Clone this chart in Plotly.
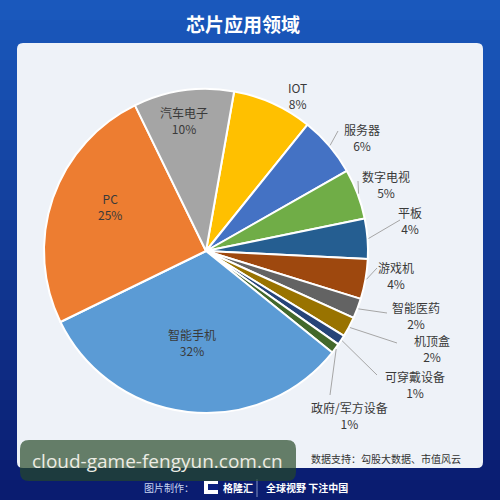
import math
import plotly.graph_objects as go

# ---- data ----
labels = ["IOT", "服务器", "数字电视", "平板", "游戏机", "智能医药", "机顶盒",
          "可穿戴设备", "政府/军方设备", "智能手机", "PC", "汽车电子"]
values = [8, 6, 5, 4, 4, 2, 2, 1, 1, 32, 25, 10]
colors = ["#FFC000", "#4472C4", "#70AD47", "#255E91", "#9E480E", "#636363",
          "#997300", "#264478", "#43682B", "#5B9BD5", "#ED7D31", "#A5A5A5"]
title_text = "芯片应用领域"
source_text = "数据支持：勾股大数据、市值风云"
watermark_text = "cloud-game-fengyun.com.cn"

# ---- layout helpers (pixel -> paper) ----
W = H = 500
def px(x):
    return x / W
def py(y):
    return 1 - y / H

CX, CY, R = 206, 251, 162
ROT = 10
FONT = "Noto Sans CJK SC"

fig = go.Figure()
fig.add_trace(go.Pie(
    labels=labels, values=values, sort=False, direction="clockwise",
    rotation=ROT, marker=dict(colors=colors, line=dict(color="white", width=2)),
    textinfo="none", hoverinfo="label+percent", showlegend=False,
    domain=dict(x=[px(CX - R), px(CX + R)], y=[py(CY + R), py(CY - R)]),
))

shapes = []
# gradient background bands
top = (26, 88, 188)
bot = (10, 28, 112)
n = 25
for i in range(n):
    t = i / (n - 1)
    c = tuple(int(top[k] + (bot[k] - top[k]) * t) for k in range(3))
    shapes.append(dict(type="rect", xref="paper", yref="paper", layer="below",
                       x0=0, x1=1, y0=py(H * (i + 1) / n + 1), y1=py(H * i / n),
                       line=dict(width=0), fillcolor="rgb(%d,%d,%d)" % c))

def rrect(x0, y0, x1, y1, r):
    X0, X1 = px(x0), px(x1)
    Y0, Y1 = py(y0), py(y1)
    rx, ry = r / W, r / H
    return (f"M{X0+rx},{Y0} L{X1-rx},{Y0} Q{X1},{Y0} {X1},{Y0-ry} "
            f"L{X1},{Y1+ry} Q{X1},{Y1} {X1-rx},{Y1} L{X0+rx},{Y1} "
            f"Q{X0},{Y1} {X0},{Y1+ry} L{X0},{Y0-ry} Q{X0},{Y0} {X0+rx},{Y0} Z")

# white panel
shapes.append(dict(type="path", xref="paper", yref="paper", layer="below",
                   path=rrect(17, 43, 483, 468, 6), line=dict(width=0),
                   fillcolor="#eef2f8"))

annotations = []
def text(x, y, s, size, color, xanchor="center", family=FONT):
    annotations.append(dict(x=px(x), y=py(y), xref="paper", yref="paper",
                            xanchor=xanchor, yanchor="middle", text=s,
                            showarrow=False, align="center",
                            font=dict(family=family, size=size, color=color)))

text(243, 23, "<b>" + title_text + "</b>", 19, "white")

# inside labels for big slices
inside_pos = {"汽车电子": (184, 120), "PC": (110, 207), "智能手机": (192, 342)}
# outside labels: label anchor position and leader-line end
outside_pos = {
    "IOT": ((297, 96), None),
    "服务器": ((362, 137), (338, 131)),
    "数字电视": ((386, 184), (358, 181)),
    "平板": ((410, 221), (400, 220)),
    "游戏机": ((396, 275), (377, 268)),
    "智能医药": ((416, 315), (387, 313)),
    "机顶盒": ((432, 348), (397, 343)),
    "可穿戴设备": ((415, 384), (377, 375)),
    "政府/军方设备": ((349, 415), (330, 395)),
}

total = sum(values)
cum = 0
for lab, v in zip(labels, values):
    mid = ROT + (cum + v / 2) / total * 360
    cum += v
    pct = f"{round(v / total * 100)}%"
    if lab in inside_pos:
        x, y = inside_pos[lab]
        text(x, y, f"{lab}<br>{pct}", 12, "#3a3a3a")
    else:
        (x, y), end = outside_pos[lab]
        text(x, y, f"{lab}<br>{pct}", 12, "#3a3a3a")
        if end is not None:
            a = math.radians(mid)
            sx = CX + (R + 1) * math.sin(a)
            sy = CY - (R + 1) * math.cos(a)
            shapes.append(dict(type="line", xref="paper", yref="paper",
                               x0=px(sx), y0=py(sy), x1=px(end[0]), y1=py(end[1]),
                               line=dict(color="#a6a6a6", width=1)))

# source note
text(463, 458, source_text, 10, "#333333", xanchor="right")

# footer
text(196, 487, "图片制作：", 10, "#c8d4f0", xanchor="right")
shapes.append(dict(type="rect", xref="paper", yref="paper",
                   x0=px(204), x1=px(218), y0=py(494), y1=py(481),
                   line=dict(width=0), fillcolor="white"))
shapes.append(dict(type="rect", xref="paper", yref="paper",
                   x0=px(208), x1=px(218), y0=py(490), y1=py(484),
                   line=dict(width=0), fillcolor="#0c2080"))
text(221, 487, "<b>格隆汇</b>", 10, "white", xanchor="left")
shapes.append(dict(type="line", xref="paper", yref="paper",
                   x0=px(257), x1=px(257), y0=py(479), y1=py(497),
                   line=dict(color="#8090c0", width=1)))
text(264, 487, "<b>全球视野 下注中国</b>", 10, "white", xanchor="left")

# watermark overlay box
shapes.append(dict(type="path", xref="paper", yref="paper", layer="above",
                   path=rrect(20, 440, 296, 481, 9), line=dict(width=0),
                   fillcolor="rgba(38,72,39,0.69)"))
text(157, 461, watermark_text, 19, "#ecece4", family="Open Sans")

fig.update_layout(
    width=W, height=H, margin=dict(l=0, r=0, t=0, b=0),
    paper_bgcolor="#0e3a9e", plot_bgcolor="#0e3a9e",
    shapes=shapes, annotations=annotations,
)
fig.write_html("out.html", config={"displayModeBar": False},
               post_script="document.body.style.margin='0';")
